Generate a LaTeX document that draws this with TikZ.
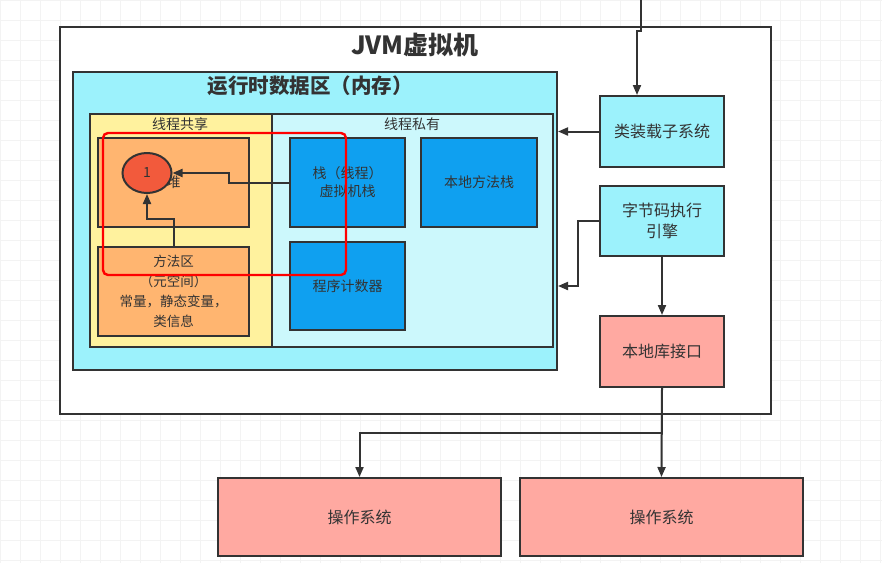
\documentclass[tikz,border=0pt]{standalone}
\usepackage{fontspec}
\setmainfont{Noto Sans CJK SC}
\usetikzlibrary{arrows.meta,shapes.geometric}

\definecolor{inkgray}{HTML}{333333}
\definecolor{runcyan}{HTML}{9CF2FC}
\definecolor{privcyan}{HTML}{CCF8FC}
\definecolor{shareyellow}{HTML}{FFF29E}
\definecolor{heaporange}{HTML}{FFB570}
\definecolor{stackblue}{HTML}{0FA0F0}
\definecolor{nativepink}{HTML}{FFA9A1}
\definecolor{dotred}{HTML}{F25A3C}
\definecolor{gridgray}{HTML}{F3F3F3}

\tikzset{
  box/.style={draw=inkgray, line width=2pt, inner sep=0pt, align=center,
    text=inkgray, font=\fontsize{14}{18}\selectfont},
  bigbox/.style={box, font=\fontsize{16}{21}\selectfont},
  link/.style={draw=inkgray, line width=2pt, -{Triangle[length=10pt,width=8pt]}},
}

\begin{document}
\begin{tikzpicture}[x=1pt,y=-1pt]
    \useasboundingbox (0,0) rectangle (882,563);
    \foreach \x in {0,20,...,880}
        \draw[gridgray] (\x,0) -- (\x,563);
    \foreach \y in {0,20,...,560}
        \draw[gridgray] (0,\y) -- (882,\y);

    \node[box, fill=white, minimum width=711pt, minimum height=387pt] (jvm) at (415.5,220.5) {};
    \node[font=\fontsize{25}{28}\selectfont\bfseries, text=inkgray] (jvmtitle) at (415,45) {JVM虚拟机};

    \node[box, fill=runcyan, minimum width=484pt, minimum height=298pt] (runtime) at (315,221) {};
    \node[font=\fontsize{20.5}{24}\selectfont\bfseries, text=inkgray] (runtitle) at (310,86) {运行时数据区（内存）};

    \node[box, line width=1.4pt, fill=shareyellow, minimum width=182pt, minimum height=233pt] (shared) at (181,230.5) {};
    \node[box, line width=1.4pt, fill=privcyan, minimum width=281pt, minimum height=233pt] (private) at (412.5,230.5) {};
    \node[text=inkgray, font=\fontsize{14}{16}\selectfont] (sharedlabel) at (180,124) {线程共享};
    \node[text=inkgray, font=\fontsize{14}{16}\selectfont] (privatelabel) at (412,124) {线程私有};

    \node[box, fill=heaporange, minimum width=151pt, minimum height=89pt] (heap) at (173.5,182.5) {堆};
    \node[box, fill=heaporange, minimum width=151pt, minimum height=89pt, font=\fontsize{13.5}{20}\selectfont] (method) at (173.5,291.5)
        {方法区\\（元空间）\\常量，静态变量，\\类信息};

    \node[box, fill=stackblue, minimum width=115pt, minimum height=89pt] (stack) at (347.5,182.5) {栈（线程）\\虚拟机栈};
    \node[box, fill=stackblue, minimum width=116pt, minimum height=89pt] (nativestack) at (479,182.5) {本地方法栈};
    \node[box, fill=stackblue, minimum width=115pt, minimum height=88pt] (counter) at (347.5,286) {程序计数器};

    \node[box, fill=dotred, ellipse, minimum width=49pt, minimum height=40pt] (dot) at (147,173) {1};

    \node[bigbox, fill=runcyan, minimum width=124pt, minimum height=71pt] (loader) at (662,131.5) {类装载子系统};
    \node[bigbox, fill=runcyan, minimum width=124pt, minimum height=70pt] (engine) at (662,221) {字节码执行\\引擎};
    \node[bigbox, fill=nativepink, minimum width=124pt, minimum height=71pt] (native) at (662,351.5) {本地库接口};

    \node[bigbox, fill=nativepink, minimum width=283pt, minimum height=78pt] (osleft) at (359.5,517) {操作系统};
    \node[bigbox, fill=nativepink, minimum width=283pt, minimum height=78pt] (osright) at (661.5,517) {操作系统};

    \node[draw=red, line width=2.4pt, rounded corners=5pt, minimum width=243pt, minimum height=142pt] (focus) at (224.5,204) {};

    \coordinate (classin) at (641,0);
    \coordinate (split) at (662,433);

    \draw[link] (classin) -- (641,31) -- (637,31) -- ([xshift=-25pt]loader.north);
    \draw[link] (loader.west) -- (loader.west -| runtime.east);
    \draw[link] (engine.west) -- ++(-21,0) |- (runtime.east |- counter.west);
    \draw[link] (engine.south) -- (native.north);
    \draw[link] (native.south) -- (osright.north);
    \draw[link] (split) -| (osleft.north);
    \draw[link] (stack.west) -- ++(-60,0) |- (dot.east);
    \draw[link] (method.north) -- ++(0,-27) -| (dot.south);
\end{tikzpicture}
\end{document}
